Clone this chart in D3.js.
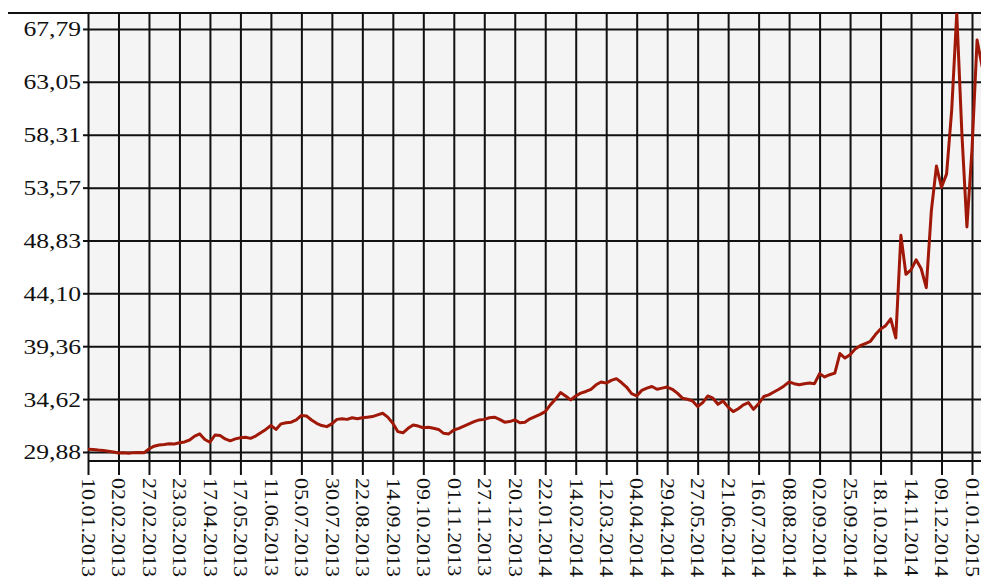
<!DOCTYPE html>
<html lang="ru">
<meta charset="utf-8">
<head>
  <title>USD</title>
  <style>
  body { margin: 0; background: #fff; }
  .grid line { stroke: #111; stroke-width: 2px; }
  .grid path { display: none; }
  .axis path { display: none; }
  .axis line { stroke: #111; stroke-width: 2px; }
  .axis text { font-family: "Liberation Serif", "Times New Roman", serif; fill: #111; }
  .frame { stroke: #111; stroke-width: 2px; }
  .line { fill: none; stroke: #a01808; stroke-width: 3px; stroke-linejoin: round; }
  </style>
</head>
<body>
<svg width="981" height="585"></svg>
<script src="https://cdn.jsdelivr.net/npm/d3@7"></script>
<script>

// tick labels on the x axis, one every 6 points of the series
var dateLabels = [
  "10.01.2013", "02.02.2013", "27.02.2013", "23.03.2013", "17.04.2013", "17.05.2013",
  "11.06.2013", "05.07.2013", "30.07.2013", "22.08.2013", "14.09.2013", "09.10.2013",
  "01.11.2013", "27.11.2013", "20.12.2013", "22.01.2014", "14.02.2014", "12.03.2014",
  "04.04.2014", "29.04.2014", "27.05.2014", "21.06.2014", "16.07.2014", "08.08.2014",
  "02.09.2014", "25.09.2014", "18.10.2014", "14.11.2014", "09.12.2014", "01.01.2015"
];
var pointsPerTick = 6;

var yTicks = [29.88, 34.62, 39.36, 44.10, 48.83, 53.57, 58.31, 63.05, 67.79];
var yDomain = [29.07, 69.22];

// rate values
var rates = [
  30.12, 30.10, 30.05, 30.02, 29.95, 29.88, 29.78, 29.80, 29.76, 29.82,
  29.84, 29.80, 30.15, 30.40, 30.50, 30.55, 30.62, 30.60, 30.70, 30.78,
  30.95, 31.30, 31.50, 31.00, 30.75, 31.40, 31.35, 31.05, 30.88, 31.05,
  31.15, 31.20, 31.10, 31.30, 31.60, 31.90, 32.25, 31.90, 32.40, 32.50,
  32.55, 32.75, 33.15, 33.10, 32.75, 32.45, 32.25, 32.15, 32.40, 32.80,
  32.85, 32.80, 32.95, 32.85, 32.95, 33.00, 33.05, 33.20, 33.35, 33.00,
  32.45, 31.70, 31.60, 32.00, 32.30, 32.20, 32.05, 32.10, 32.00, 31.90,
  31.55, 31.50, 31.85, 32.00, 32.20, 32.40, 32.60, 32.75, 32.80, 32.95,
  33.00, 32.80, 32.55, 32.60, 32.75, 32.50, 32.55, 32.85, 33.05, 33.25,
  33.50, 34.10, 34.60, 35.20, 34.90, 34.55, 34.90, 35.15, 35.30, 35.50,
  35.90, 36.15, 36.05, 36.30, 36.45, 36.10, 35.70, 35.10, 34.90, 35.40,
  35.60, 35.75, 35.50, 35.60, 35.70, 35.50, 35.15, 34.70, 34.60, 34.45,
  33.95, 34.30, 34.90, 34.70, 34.15, 34.45, 33.90, 33.50, 33.75, 34.10,
  34.30, 33.70, 34.20, 34.85, 35.00, 35.25, 35.50, 35.80, 36.15, 36.00,
  35.90, 36.00, 36.05, 36.00, 36.90, 36.60, 36.80, 36.95, 38.70, 38.30,
  38.60, 39.10, 39.40, 39.60, 39.80, 40.40, 40.90, 41.20, 41.80, 40.10,
  49.30, 45.80, 46.20, 47.10, 46.30, 44.60, 51.50, 55.50, 53.60, 54.80,
  60.50, 69.20, 58.50, 50.05, 57.00, 66.80, 64.40
];

var svg = d3.select("svg"),
    plotLeft = 88, plotTop = 13, plotRight = 981, plotBottom = 461;

var lastTick = (dateLabels.length - 1) * pointsPerTick;
var xTickIdx = dateLabels.map(function(d, i) { return i * pointsPerTick; });

var x = d3.scaleLinear().domain([0, lastTick]).range([plotLeft, 972]);
var y = d3.scaleLinear().domain(yDomain).range([plotBottom, plotTop]);

// plot background
svg.append("rect")
    .attr("x", plotLeft).attr("y", plotTop)
    .attr("width", plotRight - plotLeft).attr("height", plotBottom - plotTop)
    .attr("fill", "#f4f4f4");

// horizontal grid
svg.append("g")
    .attr("class", "grid")
    .attr("transform", "translate(" + plotLeft + ",0)")
    .call(d3.axisLeft(y).tickValues(yTicks).tickSize(-(plotRight - plotLeft)).tickFormat(""));

// vertical grid
svg.append("g")
    .attr("class", "grid")
    .attr("transform", "translate(0," + plotBottom + ")")
    .call(d3.axisBottom(x).tickValues(xTickIdx).tickSize(-(plotBottom - plotTop)).tickFormat(""));

// frame
svg.append("line").attr("class", "frame")
    .attr("x1", 8).attr("x2", plotRight).attr("y1", plotTop).attr("y2", plotTop);
svg.append("line").attr("class", "frame")
    .attr("x1", plotLeft).attr("x2", plotRight).attr("y1", plotBottom).attr("y2", plotBottom);

// y axis
var fmt = d3.format(".2f");
var sx = 1.22;
svg.append("g")
    .attr("class", "axis")
    .attr("transform", "translate(" + plotLeft + ",0)")
    .call(d3.axisLeft(y).tickValues(yTicks).tickSize(5).tickPadding(2)
      .tickFormat(function(d) { return fmt(d).replace(".", ","); }))
  .selectAll("text")
    .style("font-size", "21px")
    .attr("x", -7 / sx)
    .attr("dy", "0.33em")
    .attr("transform", "scale(" + sx + ",1)");

// x axis
svg.append("g")
    .attr("class", "axis")
    .attr("transform", "translate(0," + plotBottom + ")")
    .call(d3.axisBottom(x).tickValues(xTickIdx).tickSize(14)
      .tickFormat(function(d) { return dateLabels[d / pointsPerTick]; }))
  .selectAll("text")
    .style("font-size", "22px")
    .attr("x", 0)
    .attr("y", 0)
    .attr("dy", "0.35em")
    .attr("text-anchor", "start")
    .attr("transform", "translate(0,17) rotate(90) scale(1,0.87)");

// the rate line
svg.append("clipPath").attr("id", "plot")
  .append("rect")
    .attr("x", plotLeft).attr("y", plotTop)
    .attr("width", plotRight - plotLeft).attr("height", plotBottom - plotTop);

var line = d3.line()
    .x(function(d, i) { return x(i); })
    .y(function(d) { return y(d); });

svg.append("path")
    .datum(rates)
    .attr("class", "line")
    .attr("clip-path", "url(#plot)")
    .attr("d", line);

</script>
</body>
</html>
